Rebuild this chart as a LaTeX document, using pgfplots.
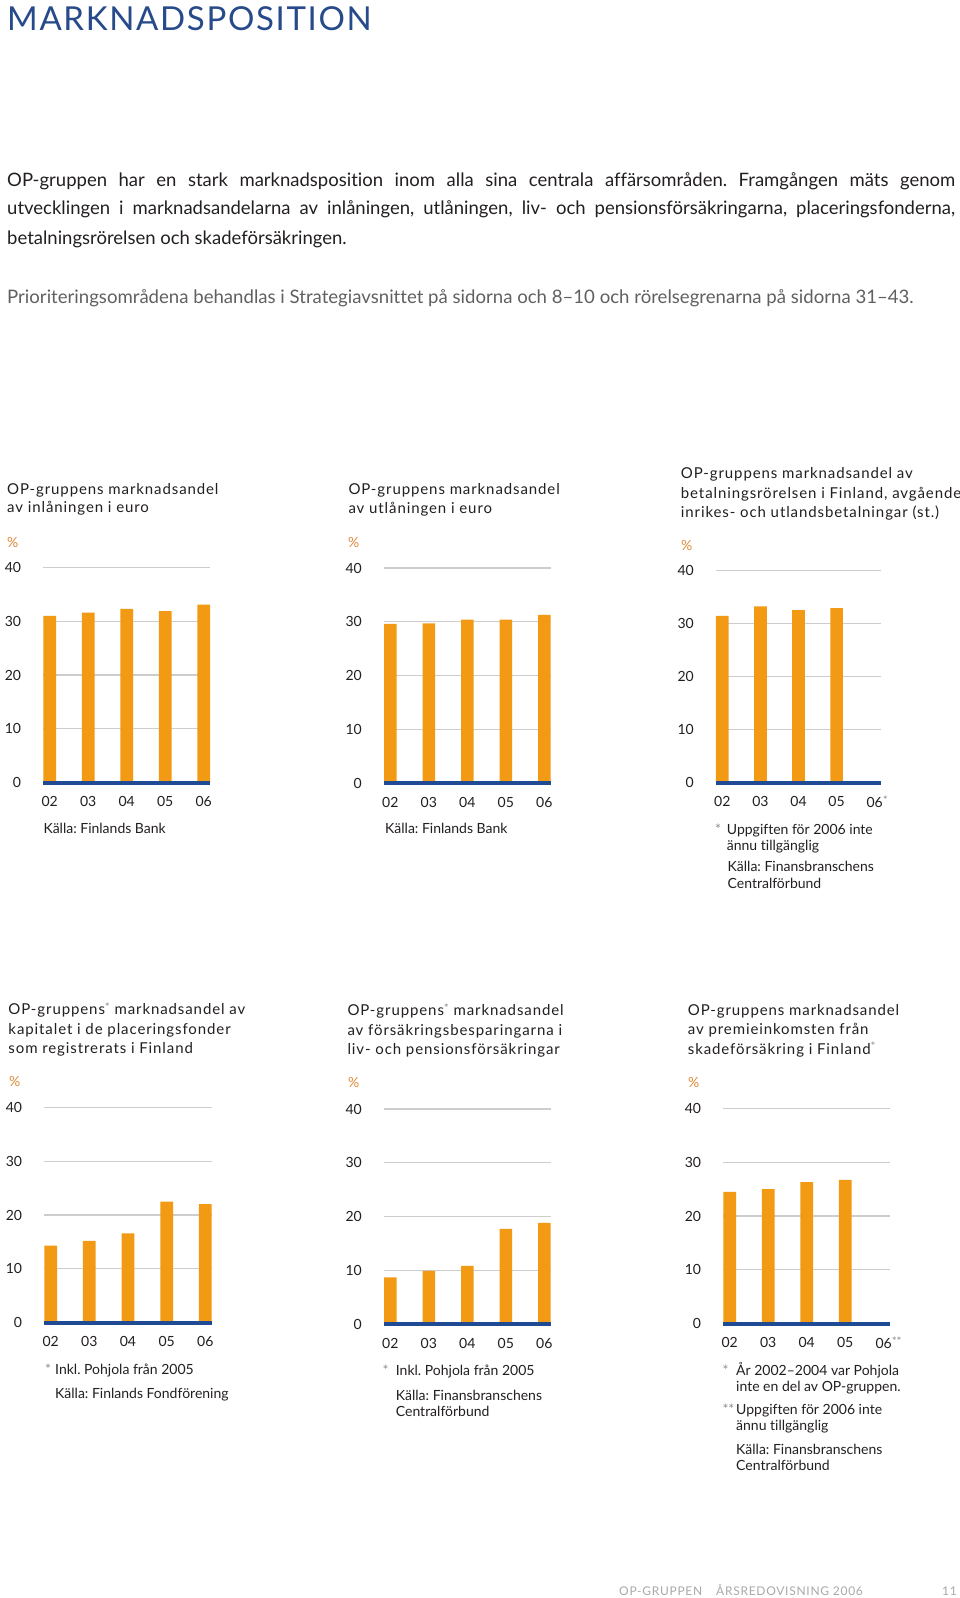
\documentclass[border=0pt]{standalone}
\usepackage{fontspec}
\setmainfont{Lato}[Ligatures={TeX,NoCommon}]
\newfontfamily\trackfam{Lato}[LetterSpace=6,Ligatures={TeX,NoCommon}]
\newfontfamily\headfam{Lato}[LetterSpace=5]
\newfontfamily\footfam{Lato}[LetterSpace=6]
\usepackage{pgfplots}
\pgfplotsset{compat=1.18}
\frenchspacing
\definecolor{oporange}{HTML}{F39A14}
\definecolor{opblue}{HTML}{1F4B94}
\definecolor{headblue}{HTML}{274A8A}
\definecolor{gridgray}{HTML}{CDCDCD}
\definecolor{textdark}{HTML}{231F20}
\definecolor{bodygray}{HTML}{5F6062}
\definecolor{stargray}{HTML}{8C8C8C}
\definecolor{footgray}{HTML}{A7A9AC}
\definecolor{pctorange}{HTML}{E0893A}

\newcommand\titlefont{\trackfam\fontsize{15}{18}\selectfont}
\newcommand\notefont{\fontsize{14}{16}\selectfont}
\newcommand\ticksize{\fontsize{14}{16}\selectfont}
\newcommand\sst{\raisebox{3.5pt}{\fontsize{11.5}{11.5}\selectfont\color{stargray}*}}
\newcommand\TL[3]{\node[anchor=base west,inner sep=0pt,font=\titlefont,text=textdark] at (#1pt,-#2pt) {#3};}
\newcommand\NL[3]{\node[anchor=base west,inner sep=0pt,font=\notefont,text=textdark] at (#1pt,-#2pt) {#3};}
\newcommand\SL[3]{\node[anchor=base west,inner sep=0pt,font=\notefont,text=stargray] at (#1pt,-#2pt) {#3};}
\newcommand\PC[2]{\node[anchor=base west,inner sep=0pt,font=\notefont,text=pctorange] at (#1pt,-#2pt) {\%};}

\pgfplotsset{
  opchart/.style={
    scale only axis, width=166.7pt, height=215pt,
    xmin=-0.165, xmax=4.165, ymin=0, ymax=40,
    enlargelimits=false,
    ytick={0,10,20,30,40}, xtick={0,1,2,3,4},
    xticklabels={02,03,04,05,06},
    axis line style={draw=none}, major tick length=0pt,
    ymajorgrids, grid style={color=gridgray, line width=1.1pt},
    tick label style={font=\ticksize, text=textdark, inner sep=0pt},
    yticklabel style={anchor=east, xshift=-22pt},
    xticklabel style={anchor=center, yshift=-19pt},
    /pgf/number format/assume math mode=true,
    anchor=south west, clip=false,
  },
  opbar/.style={ybar, bar width=12.7pt, bar shift=0pt, fill=oporange, draw=none},
}
\newcommand\baseline{\draw[opblue, line width=4pt] (rel axis cs:0,0) -- (rel axis cs:1,0);}

\begin{document}
\begin{tikzpicture}
\path[use as bounding box, fill=white] (0pt,0pt) rectangle (960pt,-1598pt);

% header
\node[anchor=base west,inner sep=0pt,text=headblue,font=\headfam\fontsize{33}{33}\selectfont] at (7pt,-30.7pt) {MARKNADSPOSITION};

% body text
\node[anchor=base west,inner sep=0pt,text=textdark,font=\fontsize{18.5}{20}\selectfont] at (7pt,-186pt)
 {\makebox[948pt][s]{OP-gruppen har en stark marknadsposition inom alla sina centrala affärsområden. Framgången mäts genom}};
\node[anchor=base west,inner sep=0pt,text=textdark,font=\fontsize{18.5}{20}\selectfont] at (7pt,-214.8pt)
 {\makebox[948pt][s]{utvecklingen i marknadsandelarna av inlåningen, utlåningen, liv- och pensionsförsäkringarna, placeringsfonderna,}};
\node[anchor=base west,inner sep=0pt,text=textdark,font=\fontsize{18.5}{20}\selectfont] at (7pt,-244.4pt)
 {betalningsrörelsen och skadeförsäkringen.};
\node[anchor=base west,inner sep=0pt,text=bodygray,font=\fontsize{18.6}{20}\selectfont] at (7pt,-303pt)
 {Prioriteringsområdena behandlas i Strategiavsnittet på sidorna och 8–10 och rörelsegrenarna på sidorna 31–43.};

% ---------- Chart 1 ----------
\TL{7}{494}{OP-gruppens marknadsandel}
\TL{7}{512.7}{av inlåningen i euro}
\PC{7}{547}
\begin{axis}[opchart, at={(43.3pt,-782.5pt)}]
\addplot[opbar] coordinates {(0,31.0) (1,31.6) (2,32.3) (3,31.9) (4,33.1)};
\baseline
\end{axis}
\NL{43.3}{833.5}{Källa: Finlands Bank}

% ---------- Chart 2 ----------
\TL{348.3}{494.5}{OP-gruppens marknadsandel}
\TL{348.3}{513.3}{av utlåningen i euro}
\PC{348}{547}
\begin{axis}[opchart, at={(384pt,-783pt)}]
\addplot[opbar] coordinates {(0,29.6) (1,29.7) (2,30.4) (3,30.4) (4,31.3)};
\baseline
\end{axis}
\NL{385}{833.5}{Källa: Finlands Bank}

% ---------- Chart 3 ----------
\TL{680.7}{478.8}{OP-gruppens marknadsandel av}
\TL{680.7}{498}{betalningsrörelsen i Finland, avgående}
\TL{680.7}{517.2}{inrikes- och utlandsbetalningar (st.)}
\PC{681}{550}
\begin{axis}[opchart, at={(716pt,-782.7pt)}, width=165pt, height=212.4pt,
  xticklabels={02,03,04,05,06\rlap{\sst}}]
\addplot[opbar] coordinates {(0,31.4) (1,33.2) (2,32.5) (3,32.9)};
\baseline
\end{axis}
\SL{715}{834}{*}
\NL{726.7}{834}{Uppgiften för 2006 inte}
\NL{726.7}{850}{ännu tillgänglig}
\NL{727.5}{871.7}{Källa: Finansbranschens}
\NL{727.5}{888}{Centralförbund}

% ---------- Chart 4 ----------
\TL{8.3}{1014.8}{OP-gruppens\sst{} marknadsandel av}
\TL{8.3}{1034.5}{kapitalet i de placeringsfonder}
\TL{8.3}{1053.8}{som registrerats i Finland}
\PC{9}{1086.5}
\begin{axis}[opchart, at={(44.3pt,-1322.7pt)}, width=167.4pt, height=215.4pt]
\addplot[opbar] coordinates {(0,14.3) (1,15.2) (2,16.6) (3,22.5) (4,22.0)};
\baseline
\end{axis}
\SL{45}{1374}{*}
\NL{55}{1374}{Inkl. Pohjola från 2005}
\NL{55}{1398}{Källa: Finlands Fondförening}

% ---------- Chart 5 ----------
\TL{347.3}{1015.8}{OP-gruppens\sst{} marknadsandel}
\TL{347.3}{1035.5}{av försäkringsbesparingarna i}
\TL{347.3}{1054.8}{liv- och pensionsförsäkringar}
\PC{348}{1087}
\begin{axis}[opchart, at={(384pt,-1324pt)}]
\addplot[opbar] coordinates {(0,8.7) (1,9.9) (2,10.8) (3,17.7) (4,18.8)};
\baseline
\end{axis}
\SL{382.3}{1375.5}{*}
\NL{395.7}{1375.5}{Inkl. Pohjola från 2005}
\NL{395.7}{1400}{Källa: Finansbranschens}
\NL{395.7}{1416.7}{Centralförbund}

% ---------- Chart 6 ----------
\TL{687.7}{1015.5}{OP-gruppens marknadsandel}
\TL{687.7}{1034.8}{av premieinkomsten från}
\TL{687.7}{1054.2}{skadeförsäkring i Finland\sst}
\PC{688}{1087}
\begin{axis}[opchart, at={(723.3pt,-1323.7pt)}, width=166.7pt, height=215.4pt,
  xticklabels={02,03,04,05,06\rlap{\sst\sst}}]
\addplot[opbar] coordinates {(0,24.5) (1,25.0) (2,26.3) (3,26.7)};
\baseline
\end{axis}
\SL{722.3}{1375}{*}
\NL{736}{1375}{År 2002–2004 var Pohjola}
\NL{736}{1391.7}{inte en del av OP-gruppen.}
\SL{722.3}{1414.3}{**}
\NL{736}{1414.3}{Uppgiften för 2006 inte}
\NL{736}{1430}{ännu tillgänglig}
\NL{736}{1454}{Källa: Finansbranschens}
\NL{736}{1470}{Centralförbund}

% footer
\node[anchor=base west,inner sep=0pt,text=footgray,font=\footfam\fontsize{12}{12}\selectfont] at (619pt,-1595.5pt) {OP-GRUPPEN};
\node[anchor=base west,inner sep=0pt,text=footgray,font=\footfam\fontsize{12}{12}\selectfont] at (716pt,-1595.5pt) {ÅRSREDOVISNING 2006};
\node[anchor=base west,inner sep=0pt,text=footgray,font=\footfam\fontsize{12}{12}\selectfont] at (942pt,-1595.5pt) {11};
\end{tikzpicture}
\end{document}
